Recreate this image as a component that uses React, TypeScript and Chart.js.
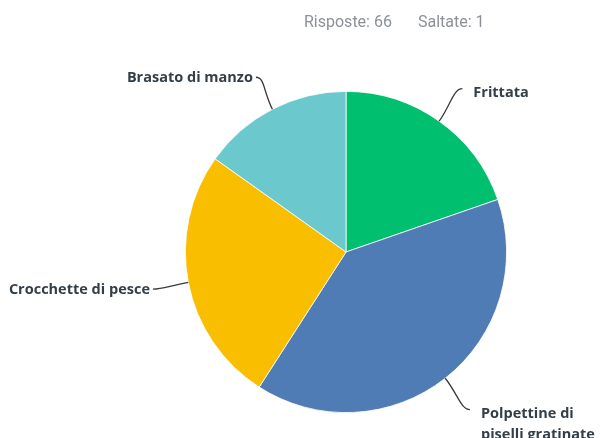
import React, { useEffect, useRef } from "react";
import { Chart, registerables } from "chart.js";

Chart.register(...registerables);

const categories: (string | string[])[] = [
  "Frittata",
  ["Polpettine di", "piselli gratinate"],
  "Crocchette di pesce",
  "Brasato di manzo",
];
const responses = [13, 26, 17, 10];
const sliceColors = ["#00BF6F", "#507CB6", "#F9BE00", "#6BC8CD"];
const answeredCount = 66;
const skippedCount = 1;

const labelFont = "bold 14.5px 'Open Sans', sans-serif";
const labelColor = "#333E48";

const leaderPlugin = {
  id: "leaderLabels",
  afterDraw(chart: any) {
    const ctx = chart.ctx as CanvasRenderingContext2D;
    const meta = chart.getDatasetMeta(0);
    ctx.save();
    // header
    ctx.font = "16px Roboto, 'Liberation Sans', sans-serif";
    ctx.fillStyle = "#8C9198";
    ctx.textBaseline = "middle";
    ctx.textAlign = "left";
    ctx.fillText(`Risposte: ${answeredCount}`, 304, 23);
    ctx.fillText(`Saltate: ${skippedCount}`, 418, 23);

    meta.data.forEach((arc: any, i: number) => {
      const { x, y, startAngle, endAngle, outerRadius } = arc.getProps(
        ["x", "y", "startAngle", "endAngle", "outerRadius"],
        true
      );
      const mid = (startAngle + endAngle) / 2;
      const cx = Math.cos(mid);
      const sy = Math.sin(mid);
      const right = cx >= 0;
      const dir = right ? 1 : -1;
      const ext = right ? 40 : 36;
      const p0 = { x: x + cx * outerRadius, y: y + sy * outerRadius };
      const p3 = { x: x + cx * (outerRadius + ext), y: y + sy * (outerRadius + ext) };
      const c1 = { x: x + cx * (outerRadius + 20), y: y + sy * (outerRadius + 20) };
      const c2 = { x: p3.x - dir * 9, y: p3.y };
      ctx.strokeStyle = "#3A3A3A";
      ctx.lineWidth = 1.3;
      ctx.beginPath();
      ctx.moveTo(p0.x, p0.y);
      ctx.bezierCurveTo(c1.x, c1.y, c2.x, c2.y, p3.x, p3.y);
      ctx.stroke();

      const lab = categories[i];
      const lines = Array.isArray(lab) ? lab : [lab];
      ctx.font = labelFont;
      ctx.fillStyle = labelColor;
      ctx.textAlign = right ? "left" : "right";
      ctx.textBaseline = "middle";
      const tx = p3.x + dir * (right ? 11 : 3);
      const lineH = 21;
      const ty0 = p3.y + (lines.length > 1 ? 4 : right ? 4 : 1);
      lines.forEach((ln: string, k: number) => {
        ctx.fillText(ln, tx, ty0 + k * lineH);
      });
    });
    ctx.restore();
  },
};

export default function App() {
  const ref = useRef<HTMLCanvasElement>(null);
  useEffect(() => {
    if (!ref.current) return;
    const chart = new Chart(ref.current, {
      type: "pie",
      data: {
        labels: categories,
        datasets: [
          {
            data: responses,
            backgroundColor: sliceColors,
            borderColor: "#FFFFFF",
            borderWidth: 0.8,
          },
        ],
      },
      options: {
        responsive: false,
        animation: false,
        layout: { padding: { left: 185, right: 93, top: 91, bottom: 25 } },
        plugins: {
          legend: { display: false },
          tooltip: { enabled: false },
          title: { display: false },
        },
      },
      plugins: [leaderPlugin],
    });
    return () => chart.destroy();
  }, []);
  return (
    <div style={{ position: "absolute", left: 0, top: 0, width: 600, height: 438, background: "#fff" }}>
      <canvas ref={ref} width={600} height={438} />
    </div>
  );
}
